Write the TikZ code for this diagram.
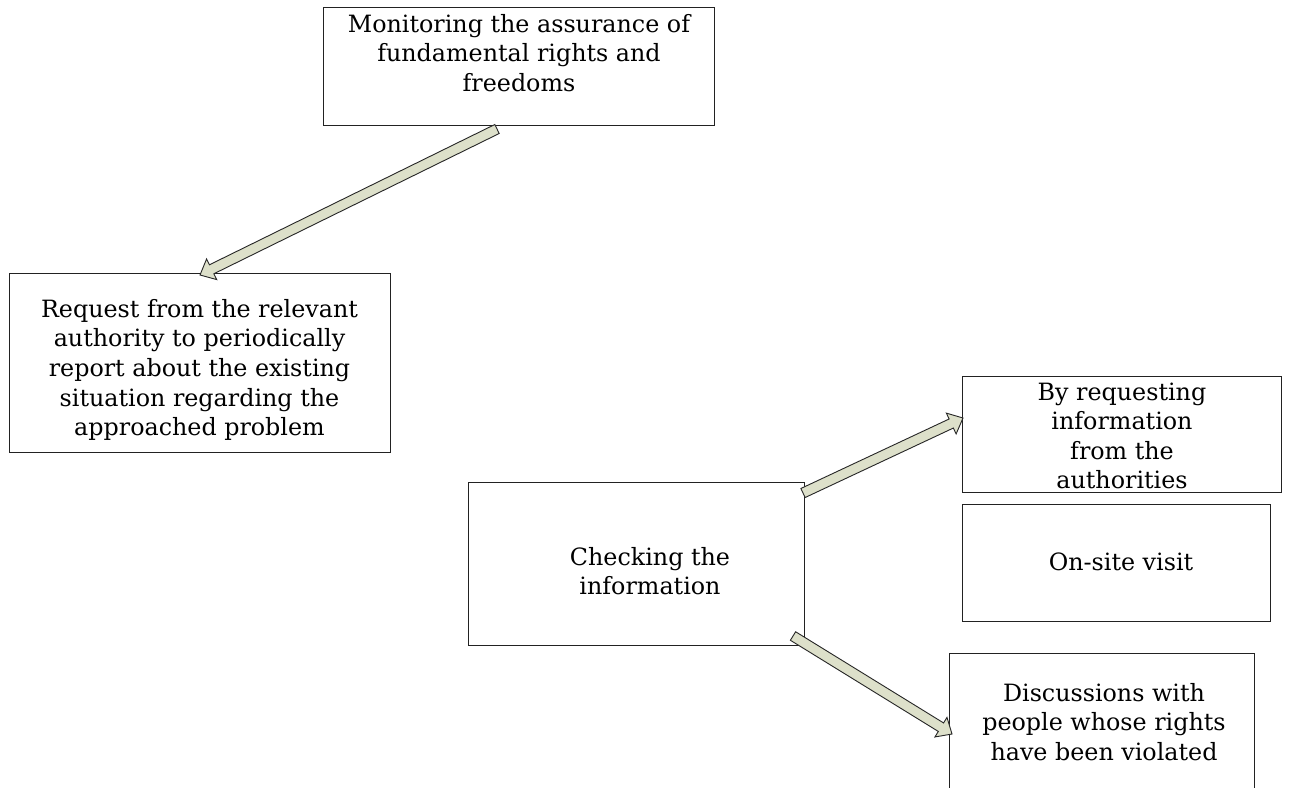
\documentclass[tikz,border=0pt]{standalone}
\usepackage{fontspec}
\setmainfont{DejaVu Serif}
\usetikzlibrary{calc}
\definecolor{arrowfill}{HTML}{DDE0CA}
\definecolor{boxline}{HTML}{222222}
\tikzset{
  box/.style={draw=boxline, line width=1pt, fill=none, inner sep=0pt},
  txt/.style={align=center, inner sep=0pt, font=\fontsize{23.8}{29.6}\selectfont},
  barrowstyle/.style={draw=black!85, line width=0.9pt, fill=arrowfill, line join=miter}
}
\newcommand\blockarrowdraw[2]{%
  \coordinate (#1h) at ($(#2)!13pt!(#1)$);
  \draw[barrowstyle]
    ($(#1)!5pt!90:(#2)$) -- ($(#1h)!5pt!-90:(#1)$) -- ($(#1h)!11.5pt!-90:(#1)$) -- (#2)
    -- ($(#1h)!11.5pt!90:(#1)$) -- ($(#1h)!5pt!90:(#1)$) -- ($(#1)!5pt!-90:(#2)$) -- cycle;
}
\begin{document}
\begin{tikzpicture}[x=1pt,y=-1pt]
\useasboundingbox (0,0) rectangle (1289,787);
\clip (0,0) rectangle (1289,787);
\fill[white] (0,0) rectangle (1289,787);
% boxes
\node[box, minimum width=391pt, minimum height=118pt] (top) at (518.5,66) {};
\node[box, minimum width=381pt, minimum height=179pt] (req) at (199.5,362.5) {};
\node[box, minimum width=336pt, minimum height=163pt] (chk) at (636,563.5) {};
\node[box, minimum width=319pt, minimum height=116pt] (byreq) at (1121.5,434) {};
\node[box, minimum width=308pt, minimum height=117pt] (onsite) at (1116,562.5) {};
\node[box, minimum width=305pt, minimum height=160pt] (disc) at (1101.5,733) {};
% texts
\node[txt] (toptxt) at (519,53) {Monitoring the assurance of\\fundamental rights and\\freedoms};
\node[txt] (reqtxt) at (199.5,370) {Request from the relevant\\authority to periodically\\report about the existing\\situation regarding the\\approached problem};
\node[txt] (chktxt) at (650,571) {Checking the\\information};
\node[txt] (byreqtxt) at (1122,436) {By requesting\\information\\from the\\authorities};
\node[txt] (onsitetxt) at (1121,562) {On-site visit};
\node[txt] (disctxt) at (1104,722) {Discussions with\\people whose rights\\have been violated};
% arrows
\coordinate (a1) at (497,129);
\coordinate (b1) at (200,275);
\coordinate (a2) at (803,493);
\coordinate (b2) at (963,418);
\coordinate (a3) at (793,636);
\coordinate (b3) at (952,734);
\blockarrowdraw{a1}{b1}
\blockarrowdraw{a2}{b2}
\blockarrowdraw{a3}{b3}
\end{tikzpicture}
\end{document}
